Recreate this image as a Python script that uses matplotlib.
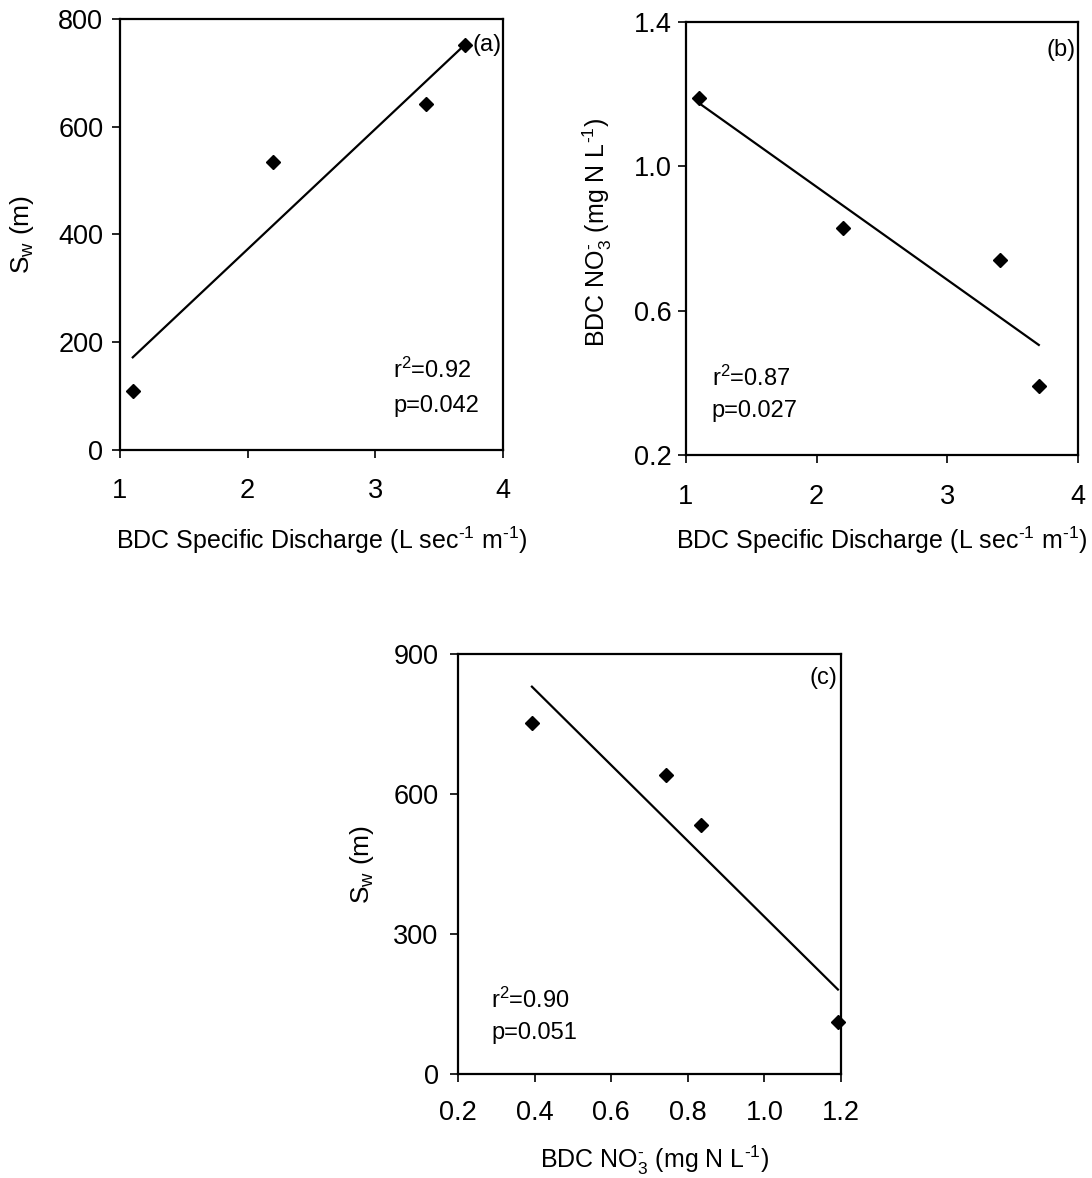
import matplotlib
matplotlib.use("Agg")
import matplotlib.pyplot as plt
from matplotlib.ticker import FormatStrFormatter

plt.rcParams['font.family'] = ['Liberation Sans', 'DejaVu Sans']
plt.rcParams['mathtext.fontset'] = 'custom'
plt.rcParams['mathtext.rm'] = 'Liberation Sans'
plt.rcParams['mathtext.it'] = 'Liberation Sans'

# ---- data ----
discharge = [1.1, 2.2, 3.4, 3.7]          # BDC specific discharge (L sec-1 m-1)
sw_a = [110, 535, 643, 752]               # Sw (m) vs discharge
fit_a_x = [1.1, 3.7]
fit_a_y = [172, 752]

no3_b = [1.19, 0.83, 0.74, 0.39]          # BDC NO3- vs discharge
fit_b_x = [1.1, 3.7]
fit_b_y = [1.175, 0.505]

no3_c = [0.393, 0.742, 0.834, 1.191]      # BDC NO3- (mg N L-1)
sw_c = [752, 641, 534, 112]               # Sw (m)
fit_c_x = [0.393, 1.192]
fit_c_y = [830, 181]

xticks_ab = [1, 2, 3, 4]
yticks_a = [0, 200, 400, 600, 800]
yticks_b = [0.2, 0.6, 1.0, 1.4]
xticks_c = [0.2, 0.4, 0.6, 0.8, 1.0, 1.2]
yticks_c = [0, 300, 600, 900]

W, H = 1092, 1178
fig = plt.figure(figsize=(W / 100, H / 100), dpi=100)


def px_axes(l, t, r, b):
    return fig.add_axes([l / W, 1 - b / H, (r - l) / W, (b - t) / H])


ax_a = px_axes(120, 19, 503, 450)
ax_b = px_axes(686, 22, 1078, 455)
ax_c = px_axes(458, 654, 841, 1074)

TICK = 19.5
LAB = 18
ANN = 17

XLAB_Q = r'BDC Specific Discharge (L sec$^{\text{-}1}$ m$^{\text{-}1}$)'
NO3_LAB = r'BDC NO$_{3}^{\text{-}}$ (mg N L$^{\text{-}1}$)'
SW_LAB = r'S$_{\mathrm{w}}$ (m)'


def style(ax, xpad, ypad):
    for s in ax.spines.values():
        s.set_linewidth(1.6)
        s.set_color('black')
    ax.tick_params(direction='out', length=6, width=1.2, labelsize=TICK,
                   top=False, right=False)
    ax.tick_params(axis='x', pad=xpad)
    ax.tick_params(axis='y', pad=ypad)


# (a)
ax_a.plot(discharge, sw_a, 'D', color='black', ms=7.5, clip_on=False)
ax_a.plot(fit_a_x, fit_a_y, '-', color='black', lw=1.6)
ax_a.set_xlim(1, 4)
ax_a.set_ylim(0, 800)
ax_a.set_xticks(xticks_ab)
ax_a.set_yticks(yticks_a)
style(ax_a, 14, 6)
ax_a.set_xlabel(XLAB_Q, fontsize=LAB)
ax_a.xaxis.label.set_va('center')
ax_a.xaxis.set_label_coords(0.526, -(540 - 450) / 431)
ax_a.set_ylabel(SW_LAB, fontsize=LAB + 1)
ax_a.yaxis.label.set_va('center')
ax_a.yaxis.set_label_coords(-(120 - 22) / 383, 0.5)
ax_a.text(0.713, 0.167, r'r$^{2}$=0.92', transform=ax_a.transAxes, fontsize=ANN,
          ha='left', va='baseline')
ax_a.text(0.713, 0.088, 'p=0.042', transform=ax_a.transAxes, fontsize=ANN,
          ha='left', va='baseline')
ax_a.text(0.997, 0.94, '(a)', transform=ax_a.transAxes, fontsize=ANN,
          ha='right', va='center')

# (b)
ax_b.plot(discharge, no3_b, 'D', color='black', ms=7.5, clip_on=False)
ax_b.plot(fit_b_x, fit_b_y, '-', color='black', lw=1.6)
ax_b.set_xlim(1, 4)
ax_b.set_ylim(0.2, 1.4)
ax_b.set_xticks(xticks_ab)
ax_b.set_yticks(yticks_b)
ax_b.yaxis.set_major_formatter(FormatStrFormatter('%.1f'))
style(ax_b, 15, 4)
ax_b.set_xlabel(XLAB_Q, fontsize=LAB)
ax_b.xaxis.label.set_va('center')
ax_b.xaxis.set_label_coords(0.5, -(540 - 455) / 433)
ax_b.set_ylabel(NO3_LAB, fontsize=LAB)
ax_b.yaxis.label.set_va('center')
ax_b.yaxis.set_label_coords(-(686 - 597) / 392, 0.515)
ax_b.text(0.066, 0.159, r'r$^{2}$=0.87', transform=ax_b.transAxes, fontsize=ANN,
          ha='left', va='baseline')
ax_b.text(0.066, 0.088, 'p=0.027', transform=ax_b.transAxes, fontsize=ANN,
          ha='left', va='baseline')
ax_b.text(0.995, 0.935, '(b)', transform=ax_b.transAxes, fontsize=ANN,
          ha='right', va='center')

# (c)
ax_c.plot(no3_c, sw_c, 'D', color='black', ms=7.5, clip_on=False)
ax_c.plot(fit_c_x, fit_c_y, '-', color='black', lw=1.6)
ax_c.set_xlim(0.2, 1.2)
ax_c.set_ylim(0, 900)
ax_c.set_xticks(xticks_c)
ax_c.set_yticks(yticks_c)
ax_c.xaxis.set_major_formatter(FormatStrFormatter('%.1f'))
style(ax_c, 13, 8)
ax_c.set_xlabel(NO3_LAB, fontsize=LAB)
ax_c.xaxis.label.set_va('center')
ax_c.xaxis.set_label_coords(0.514, -(1160 - 1074) / 420)
ax_c.set_ylabel(SW_LAB, fontsize=LAB + 1)
ax_c.yaxis.label.set_va('center')
ax_c.yaxis.set_label_coords(-(458 - 362) / 383, 0.5)
ax_c.text(0.086, 0.157, r'r$^{2}$=0.90', transform=ax_c.transAxes, fontsize=ANN,
          ha='left', va='baseline')
ax_c.text(0.086, 0.083, 'p=0.051', transform=ax_c.transAxes, fontsize=ANN,
          ha='left', va='baseline')
ax_c.text(0.99, 0.943, '(c)', transform=ax_c.transAxes, fontsize=ANN,
          ha='right', va='center')

fig.savefig('out.png', dpi=100)
